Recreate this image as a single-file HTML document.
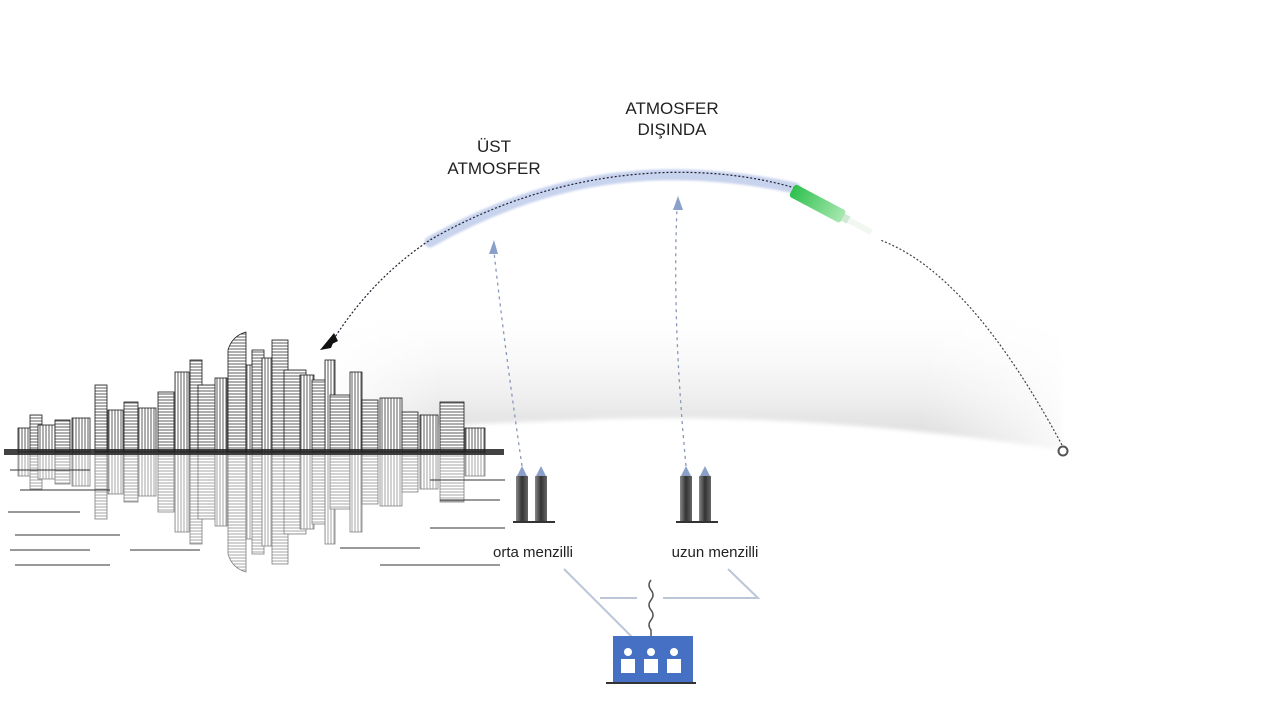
<!DOCTYPE html>
<html><head><meta charset="utf-8"><style>
html,body{margin:0;padding:0;background:#fff;}
svg{display:block}
text{font-family:"Liberation Sans",sans-serif;fill:#222;}
</style></head><body>
<svg width="1280" height="720" viewBox="0 0 1280 720" xmlns="http://www.w3.org/2000/svg">
<defs>
<linearGradient id="sky" x1="0" y1="300" x2="0" y2="440" gradientUnits="userSpaceOnUse">
<stop offset="0" stop-color="#fff" stop-opacity="0"/><stop offset="1" stop-color="#dcdcdc"/></linearGradient>
<linearGradient id="skyh" x1="330" y1="0" x2="1070" y2="0" gradientUnits="userSpaceOnUse">
<stop offset="0" stop-color="#fff" stop-opacity="0.9"/><stop offset="0.15" stop-color="#fff" stop-opacity="0"/><stop offset="0.8" stop-color="#fff" stop-opacity="0"/><stop offset="1" stop-color="#fff" stop-opacity="0.9"/></linearGradient>
<filter id="blur" x="-10%" y="-50%" width="120%" height="200%"><feGaussianBlur stdDeviation="2"/></filter>
<filter id="blur1" x="-10%" y="-50%" width="120%" height="200%"><feGaussianBlur stdDeviation="1"/></filter>
<pattern id="hatch" width="4" height="3" patternUnits="userSpaceOnUse"><rect width="4" height="3" fill="#fff"/><line x1="0" y1="1" x2="4" y2="1" stroke="#333" stroke-width="0.8"/></pattern>
<pattern id="vhatch" width="3" height="4" patternUnits="userSpaceOnUse"><rect width="3" height="4" fill="#fff"/><line x1="1" y1="0" x2="1" y2="4" stroke="#333" stroke-width="0.8"/></pattern>
<linearGradient id="tank" x1="0" y1="0" x2="1" y2="0"><stop offset="0" stop-color="#888"/><stop offset="0.5" stop-color="#333"/><stop offset="1" stop-color="#666"/></linearGradient>
<linearGradient id="miss" x1="0" y1="0" x2="1" y2="0"><stop offset="0" stop-color="#2ec04e"/><stop offset="1" stop-color="#a8e8b0"/></linearGradient>
</defs>

<path d="M330,300 L1062,300 L1062,450 Q 800,410 580,420 Q 450,424 330,432 Z" fill="url(#sky)" filter="url(#blur)"/>
<path d="M330,295 L1070,295 L1070,452 L330,452 Z" fill="url(#skyh)"/>

<path d="M430,242 C 540,180 650,158 795,188" fill="none" stroke="#c8d3ee" stroke-width="11" stroke-linecap="round" filter="url(#blur1)"/>
<path d="M1062,445 C 1000,330 940,262 880,240" fill="none" stroke="#444" stroke-width="1.2" stroke-dasharray="2 2"/>
<path d="M795,188 C 700,160 560,165 430,240 Q 370,280 330,345" fill="none" stroke="#223" stroke-width="1.2" stroke-dasharray="2 2"/>
<polygon points="320,350 336,336 331,348" fill="#111"/>
<polygon points="320,350 334,333 338,341" fill="#111"/>
<g transform="translate(792,190) rotate(28)">
<rect x="0" y="-7" width="58" height="14" rx="3" fill="url(#miss)"/>
<rect x="58" y="-4" width="6" height="8" fill="#cfe9d2"/>
<path d="M64,0 L90,0" stroke="#e8f4ea" stroke-width="6" opacity="0.6"/>
</g>
<circle cx="1063" cy="451" r="4.5" fill="#fff" stroke="#555" stroke-width="2"/>

<path d="M522,466 Q 505,350 494,252" fill="none" stroke="#8898b8" stroke-width="1.3" stroke-dasharray="3 4"/>
<polygon points="494,240 489,254 498,254" fill="#8aa0c8"/>
<path d="M686,466 Q 672,320 677,208" fill="none" stroke="#8898b8" stroke-width="1.3" stroke-dasharray="3 4"/>
<polygon points="678,196 673,210 683,210" fill="#8aa0c8"/>

<text x="494" y="152" font-size="17" text-anchor="middle">ÜST</text>
<text x="494" y="174" font-size="17" text-anchor="middle">ATMOSFER</text>
<text x="672" y="114" font-size="17" text-anchor="middle">ATMOSFER</text>
<text x="672" y="135" font-size="17" text-anchor="middle">DIŞINDA</text>
<text x="533" y="557" font-size="15" text-anchor="middle">orta menzilli</text>
<text x="715" y="557" font-size="15" text-anchor="middle">uzun menzilli</text>

<g>
<polygon points="522,466 517,476 527,476" fill="#8aa0c8"/><rect x="516" y="476" width="12" height="46" fill="url(#tank)"/>
<polygon points="541,466 536,476 546,476" fill="#8aa0c8"/><rect x="535" y="476" width="12" height="46" fill="url(#tank)"/>
<rect x="513" y="521" width="42" height="2" fill="#333"/>
<polygon points="686,466 681,476 691,476" fill="#8aa0c8"/><rect x="680" y="476" width="12" height="46" fill="url(#tank)"/>
<polygon points="705,466 700,476 710,476" fill="#8aa0c8"/><rect x="699" y="476" width="12" height="46" fill="url(#tank)"/>
<rect x="676" y="521" width="42" height="2" fill="#333"/>
</g>

<path d="M564,569 L632,637" stroke="#bcc6d8" stroke-width="2" fill="none"/>
<path d="M600,598 L637,598" stroke="#bcc6d8" stroke-width="2"/>
<path d="M663,598 L758,598 L728,569" stroke="#bcc6d8" stroke-width="2" fill="none"/>
<path d="M651,580 q-4,5 0,10 q4,5 0,10 q-4,5 0,10 q4,5 0,10 q-4,5 0,10 L651,637" stroke="#555" stroke-width="1.5" fill="none"/>
<rect x="613" y="636" width="80" height="46" fill="#4670c4"/>
<rect x="606" y="682" width="90" height="2" fill="#333"/>
<g fill="#fff">
<circle cx="628" cy="652" r="4"/><rect x="621" y="659" width="14" height="14"/>
<circle cx="651" cy="652" r="4"/><rect x="644" y="659" width="14" height="14"/>
<circle cx="674" cy="652" r="4"/><rect x="667" y="659" width="14" height="14"/>
</g>

<g id="city" stroke="#1a1a1a" stroke-width="0.8">
<rect x="18" y="428" width="14" height="24" fill="url(#vhatch)"/>
<rect x="30" y="415" width="12" height="37" fill="url(#hatch)"/>
<rect x="38" y="425" width="20" height="27" fill="url(#vhatch)"/>
<rect x="55" y="420" width="15" height="32" fill="url(#hatch)"/>
<rect x="72" y="418" width="18" height="34" fill="url(#vhatch)"/>
<rect x="95" y="385" width="12" height="67" fill="url(#hatch)"/>
<rect x="108" y="410" width="15" height="42" fill="url(#vhatch)"/>
<rect x="124" y="402" width="14" height="50" fill="url(#hatch)"/>
<rect x="138" y="408" width="18" height="44" fill="url(#vhatch)"/>
<rect x="158" y="392" width="16" height="60" fill="url(#hatch)"/>
<rect x="175" y="372" width="14" height="80" fill="url(#vhatch)"/>
<rect x="190" y="360" width="12" height="92" fill="url(#hatch)"/>
<rect x="198" y="385" width="28" height="67" fill="url(#hatch)"/>
<rect x="215" y="378" width="12" height="74" fill="url(#vhatch)"/>
<path d="M228,452 L228,350 Q232,336 246,332 L246,452 Z" fill="url(#hatch)"/>
<rect x="246" y="365" width="14" height="87" fill="url(#vhatch)"/>
<rect x="252" y="350" width="12" height="102" fill="url(#hatch)"/>
<rect x="262" y="358" width="20" height="94" fill="url(#vhatch)"/>
<rect x="272" y="340" width="16" height="112" fill="url(#hatch)"/>
<rect x="284" y="370" width="22" height="82" fill="url(#hatch)"/>
<rect x="300" y="375" width="14" height="77" fill="url(#vhatch)"/>
<rect x="312" y="380" width="14" height="72" fill="url(#hatch)"/>
<rect x="325" y="360" width="10" height="92" fill="url(#vhatch)"/>
<rect x="330" y="395" width="20" height="57" fill="url(#hatch)"/>
<rect x="350" y="372" width="12" height="80" fill="url(#vhatch)"/>
<rect x="362" y="400" width="16" height="52" fill="url(#hatch)"/>
<rect x="380" y="398" width="22" height="54" fill="url(#vhatch)"/>
<rect x="402" y="412" width="16" height="40" fill="url(#hatch)"/>
<rect x="420" y="415" width="18" height="37" fill="url(#vhatch)"/>
<rect x="440" y="402" width="24" height="50" fill="url(#hatch)"/>
<rect x="465" y="428" width="20" height="24" fill="url(#vhatch)"/>
</g>
<use href="#city" transform="translate(0,904) scale(1,-1)" opacity="0.55"/>
<rect x="4" y="449" width="500" height="6" fill="#222" opacity="0.85"/>
<g stroke="#333" stroke-width="1">
<line x1="10" y1="470" x2="90" y2="470"/><line x1="20" y1="490" x2="110" y2="490"/>
<line x1="8" y1="512" x2="80" y2="512"/><line x1="15" y1="535" x2="120" y2="535"/>
<line x1="10" y1="550" x2="90" y2="550"/><line x1="15" y1="565" x2="110" y2="565"/>
<line x1="130" y1="550" x2="200" y2="550"/><line x1="340" y1="548" x2="420" y2="548"/>
<line x1="380" y1="565" x2="500" y2="565"/><line x1="430" y1="528" x2="505" y2="528"/>
<line x1="440" y1="500" x2="500" y2="500"/><line x1="430" y1="480" x2="505" y2="480"/>
</g>
</svg>
</body></html>
